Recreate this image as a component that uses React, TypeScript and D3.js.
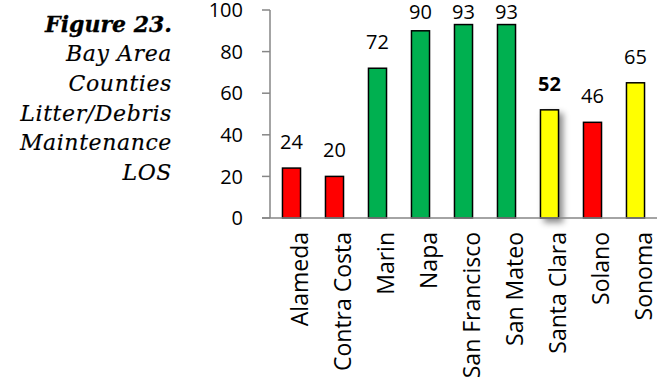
import React from "react";
import * as d3 from "d3";

const categories = ["Alameda", "Contra Costa", "Marin", "Napa", "San Francisco", "San Mateo", "Santa Clara", "Solano", "Sonoma"];
const values = [24, 20, 72, 90, 93, 93, 52, 46, 65];
const barColors = ["#FF0000", "#FF0000", "#00B050", "#00B050", "#00B050", "#00B050", "#FFFF00", "#FF0000", "#FFFF00"];
const highlighted = ["Santa Clara"];
const yTicks = [0, 20, 40, 60, 80, 100];
const titleLines = ["Figure 23.", "Bay Area", "Counties", "Litter/Debris", "Maintenance", "LOS"];

const W = 665;
const H = 378;
const plot = { left: 270, right: 657, top: 10, bottom: 218 };

export default function App() {
  const x = d3.scaleBand<string>().domain(categories).range([plot.left, plot.right]).paddingInner(0.58).paddingOuter(0.29);
  const y = d3.scaleLinear().domain([0, 100]).range([plot.bottom, plot.top]);
  const bw = x.bandwidth();
  const font = "'Open Sans', sans-serif";
  return (
    <svg width={W} height={H} style={{ position: "absolute", left: 0, top: 0, background: "#fff" }}>
      <defs>
        <filter id="shadow" x="-100%" y="-50%" width="300%" height="200%">
          <feDropShadow dx="4" dy="4" stdDeviation="3" floodColor="#000" floodOpacity="0.45" />
        </filter>
      </defs>
      {/* title */}
      <g fontFamily="'DejaVu Serif', serif" fontStyle="italic" fontSize={22} textAnchor="end" fill="#000">
        {titleLines.map((t, i) => (
          <text key={t} x={172} y={31.5 + i * 29.7} fontWeight={i === 0 ? "bold" : "normal"}
            letterSpacing={i === 0 ? 0 : 0.6} stroke="#000" strokeWidth={i === 0 ? 0.3 : 0.15}>{t}</text>
        ))}
      </g>
      {/* bars */}
      {categories.map((c, i) => (
        <rect key={c} x={x(c)} y={y(values[i])} width={bw} height={y(0) - y(values[i])}
          fill={barColors[i]} stroke="#000" strokeWidth={1.5}
          filter={highlighted.includes(c) ? "url(#shadow)" : undefined} />
      ))}
      {/* axes */}
      <line x1={plot.left} x2={plot.left} y1={y(100)} y2={y(0)} stroke="#868686" strokeWidth={1.5} />
      <line x1={plot.left - 8} x2={plot.right} y1={y(0)} y2={y(0)} stroke="#868686" strokeWidth={1.5} />
      {yTicks.map((t) => (
        <g key={t}>
          <line x1={plot.left - 8} x2={plot.left} y1={y(t)} y2={y(t)} stroke="#868686" strokeWidth={1.5} />
          <text x={243} y={y(t)} dy="0.36em" textAnchor="end" fontFamily={font} fontSize={20} fill="#000">{t}</text>
        </g>
      ))}
      {/* value labels */}
      {categories.map((c, i) => (
        <text key={c} x={(x(c) as number) + bw / 2} y={Math.max(y(values[i]) - 19, 18.5)} textAnchor="middle"
          fontFamily={font} fontSize={20} fill="#000" fontWeight={highlighted.includes(c) ? "bold" : "normal"}>
          {values[i]}
        </text>
      ))}
      {/* category labels */}
      {categories.map((c) => {
        const cx = (x(c) as number) + bw / 2;
        return (
          <text key={c} transform={`translate(${cx + 8},${232}) rotate(-90)`} textAnchor="end"
            fontFamily={font} fontSize={23} fill="#000" dy="0.35em">
            {c}
          </text>
        );
      })}
    </svg>
  );
}
